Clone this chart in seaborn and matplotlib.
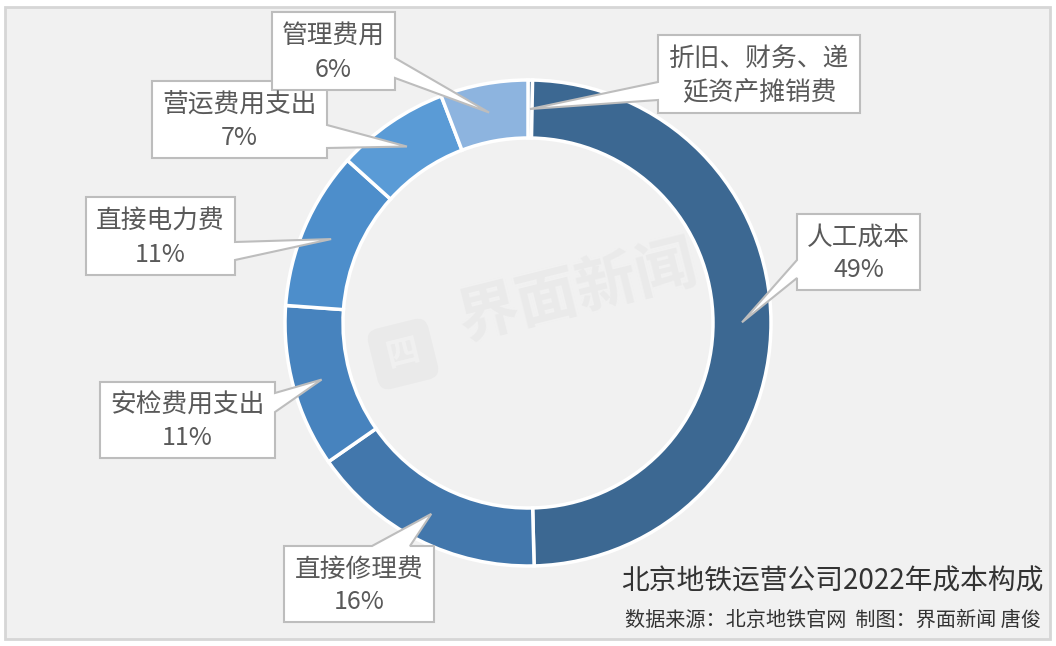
import numpy as np
import matplotlib
matplotlib.use("Agg")
import matplotlib.pyplot as plt
import seaborn as sns
from matplotlib.patches import Rectangle, Polygon, FancyBboxPatch
from matplotlib.transforms import Affine2D

# ---- data ----
categories = ["折旧、财务、递\n延资产摊销费", "人工成本", "直接修理费", "安检费用支出",
              "直接电力费", "营运费用支出", "管理费用"]
values = [0.3, 49.2, 15.7, 10.8, 10.5, 7.5, 5.8]
pct_labels = ["", "49%", "16%", "11%", "11%", "7%", "6%"]
colors = ["#2F5B86", "#3C6892", "#4277AC", "#4783BE", "#4D8ECB", "#5A9BD6", "#8DB4DF"]
title = "北京地铁运营公司2022年成本构成"
subtitle = "数据来源：北京地铁官网  制图：界面新闻 唐俊"

sns.set_theme(style="white")
plt.rcParams['font.family'] = ['Noto Sans CJK SC', 'DejaVu Sans']

W, H = 1056, 646
fig = plt.figure(figsize=(W / 100, H / 100), dpi=100)
fig.patch.set_facecolor("white")
ax = fig.add_axes([0, 0, 1, 1])
ax.set_axis_off()

def py(y):
    return H - y

# panel background
ax.add_patch(Rectangle((5, py(639)), 1045, 632, facecolor="#F1F1F1",
                       edgecolor="#D6D6D6", linewidth=2, zorder=0))

# watermark (faint)
wm_color = "#EAEAEA"
ax.text(578, py(292), "界面新闻", fontsize=44, fontweight="bold", color=wm_color,
        rotation=14, ha="center", va="center", zorder=1)
icon = FancyBboxPatch((372, py(385)), 62, 62, boxstyle="round,pad=0,rounding_size=12",
                      facecolor=wm_color, edgecolor="none", zorder=1)
icon.set_transform(Affine2D().rotate_deg_around(403, py(354), 14) + ax.transData)
ax.add_patch(icon)
ax.text(403, py(354), "四", fontsize=24, fontweight="bold", color="#F1F1F1",
        rotation=14, ha="center", va="center", zorder=1)

cx, cy, R, ring = 528, 323, 243, 58
wedges, _ = ax.pie(values, colors=colors, radius=R, center=(cx, py(cy)),
                   startangle=90, counterclock=False, frame=True,
                   wedgeprops=dict(width=ring, edgecolor="white", linewidth=2.5))
for w in wedges:
    w.set_zorder(2)

ax.set_xlim(0, W)
ax.set_ylim(0, H)
ax.set_aspect("auto")

# callout layout: box (x0, y0, x1, y1) in pixel coords, edge, base range
callouts = [
    ((658, 35, 860, 113), "left", (82, 100)),
    ((797, 214, 920, 290), "left", (260, 278)),
    ((284, 546, 434, 622), "top", (372, 410)),
    ((100, 382, 275, 458), "right", (393, 412)),
    ((86, 197, 235, 275), "right", (242, 260)),
    ((152, 81, 327, 158), "right", (125, 148)),
    ((272, 12, 395, 90), "right", (58, 78)),
]

rmid = R - ring / 2
for w, cat, pct, (box, edge, base) in zip(wedges, categories, pct_labels, callouts):
    ang = np.deg2rad((w.theta1 + w.theta2) / 2)
    tx = cx + rmid * np.cos(ang)
    ty = py(cy) + rmid * np.sin(ang)
    x0, y0, x1, y1 = box
    b0, b1 = base
    pts = [(x0, y0)]
    if edge == "top":
        pts += [(b0, y0), None, (b1, y0)]
    pts += [(x1, y0)]
    if edge == "right":
        pts += [(x1, b0), None, (x1, b1)]
    pts += [(x1, y1), (x0, y1)]
    if edge == "left":
        pts += [(x0, b1), None, (x0, b0)]
    verts = []
    for p in pts:
        if p is None:
            verts.append((tx, ty))
        else:
            verts.append((p[0], py(p[1])))
    ax.add_patch(Polygon(verts, closed=True, facecolor="white", edgecolor="#BDBDBD",
                         linewidth=1.5, zorder=3, joinstyle="miter"))
    xm = (x0 + x1) / 2
    if pct:
        ax.text(xm, py(y0 + (y1 - y0) * 0.31), cat, fontsize=18.5, color="#595959",
                ha="center", va="center", zorder=4)
        ax.text(xm, py(y0 + (y1 - y0) * 0.74), pct, fontsize=18, color="#595959",
                ha="center", va="center", zorder=4)
    else:
        ax.text(xm, py((y0 + y1) / 2 + 2), cat, fontsize=18.5, color="#595959",
                ha="center", va="center", zorder=4, linespacing=1.4)

ax.text(1043, py(582), title, fontsize=20, color="#333333", ha="right", va="center", zorder=4)
ax.text(1041, py(620), subtitle, fontsize=14.5, color="#333333", ha="right", va="center", zorder=4)

fig.savefig("out.png", dpi=100, facecolor="white")
